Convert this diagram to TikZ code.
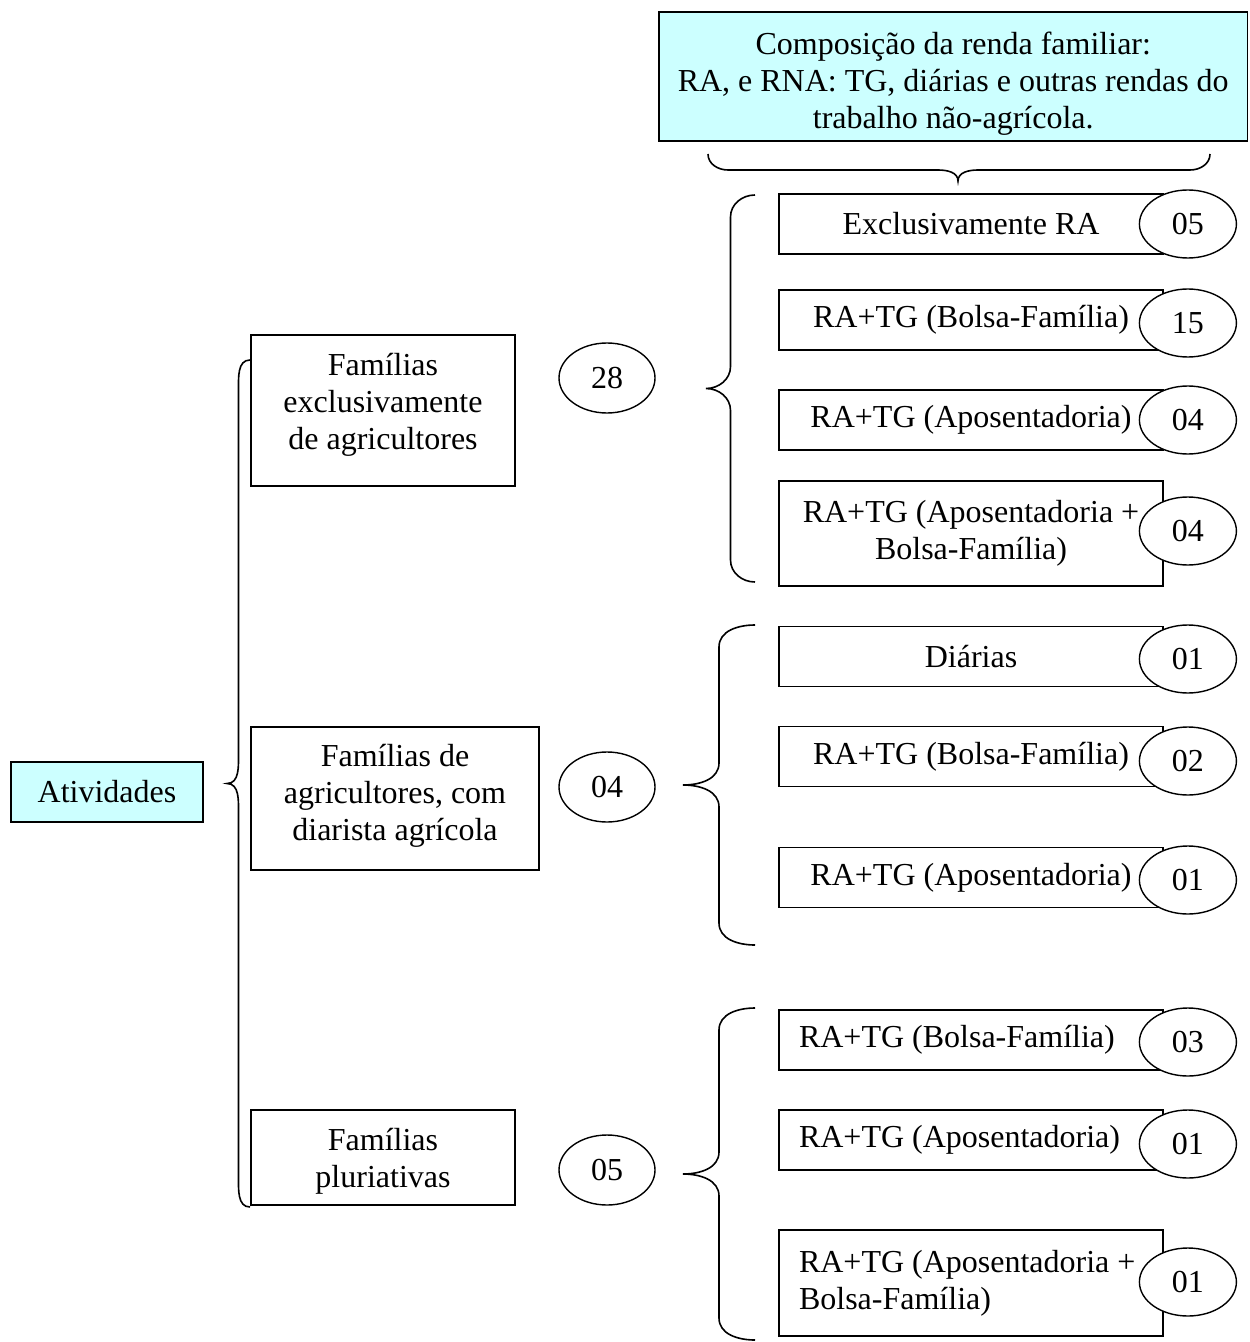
\documentclass[tikz,border=0pt]{standalone}
\usepackage{fontspec}
\setmainfont{Liberation Serif}
\usetikzlibrary{positioning,shapes.geometric}
\definecolor{azulclaro}{HTML}{CCFFFF}
\tikzset{
  caixa/.style={draw,line width=0.9pt,minimum height=30pt,align=center,inner sep=0pt},
  caixacor/.style={caixa,fill=azulclaro},
  renda/.style={caixa,minimum width=192pt},
  rendaesq/.style={caixa,text width=172pt,align=flush left,inner xsep=10pt},
  num/.style={draw,ellipse,fill=white,line width=0.7pt,minimum width=48.5pt,minimum height=34pt,inner sep=0pt},
  numgrupo/.style={num,minimum width=48pt,minimum height=35pt},
  chave/.style={line width=0.8pt},
}
% chave aberta para a direita: x das pontas, x do bico, y de cima, y de baixo, curva
\newcommand{\grpbrace}[5]{%
  \draw[chave] (#1,#3) to[out=180,in=90] ({0.5*#1+0.5*#2},{#3+#5})
    -- ({0.5*#1+0.5*#2},{0.5*#3+0.5*#4-#5}) to[out=-90,in=0] (#2,{0.5*#3+0.5*#4})
    to[out=0,in=90] ({0.5*#1+0.5*#2},{0.5*#3+0.5*#4+#5})
    -- ({0.5*#1+0.5*#2},{#4-#5}) to[out=-90,in=180] (#1,#4);}

\begin{document}
\begin{tikzpicture}[x=0.5pt,y=-0.5pt,font=\fontsize{16}{18.5}\selectfont]
\useasboundingbox (0,0) rectangle (1249,1342);

% legenda do topo
\node[caixacor,minimum width=294.25pt,minimum height=64.5pt] (legenda) at (953.25,76.5)
  {\rule{0pt}{18pt}Composição da renda familiar:\\RA, e RNA: TG, diárias e outras rendas do\\trabalho não-agrícola.};
\draw[chave] (708,154) to[out=-90,in=180] (728,170) -- (938,170) to[out=0,in=90] (958,181)
  to[out=90,in=180] (978,170) -- (1190,170) to[out=0,in=-90] (1210,154);

% raiz e tipos de familia
\node[caixacor,minimum width=96pt] (ativ) at (107,792) {Atividades};
\grpbrace{250}{227}{360}{1207}{30}

\node[caixa,minimum width=132pt,minimum height=75.5pt] (fexcl) at (383,410.5)
  {Famílias\\exclusivamente\\de agricultores\rule[-9.5pt]{0pt}{9.5pt}};
\node[caixa,minimum width=144pt,minimum height=71.5pt] (fdiar) at (395,798.5)
  {Famílias de\\agricultores, com\\diarista agrícola\rule[-6.5pt]{0pt}{6.5pt}};
\node[caixa,minimum width=132pt,minimum height=47.5pt] (fplur) at (383,1157.5)
  {\rule{0pt}{15pt}Famílias\\pluriativas};

\node[numgrupo] (nexcl) at (607,378) {28};
\node[numgrupo] (ndiar) at (607,787) {04};
\node[numgrupo] (nplur) at (607,1170) {05};

% grupo 1
\grpbrace{755}{706}{195}{582}{22}
\node[renda] (ga1) at (971,224) {Exclusivamente RA};
\node[renda] (ga2) at (971,320) {RA+TG (Bolsa-Família)};
\node[renda] (ga3) at (971,420) {RA+TG (Aposentadoria)};
\node[renda,minimum height=52.5pt] (ga4) at (971,533.5) {RA+TG (Aposentadoria +\\Bolsa-Família)};
\node[num] (nga1) at ([xshift=12pt]ga1.east) {05};
\node[num] (nga2) at ([xshift=12pt,yshift=-1.5pt]ga2.east) {15};
\node[num] (nga3) at ([xshift=12pt]ga3.east) {04};
\node[num] (nga4) at ([xshift=12pt,yshift=1.25pt]ga4.east) {04};

% grupo 2
\grpbrace{755}{683}{625}{945}{22}
\node[renda] (gb1) at (971,656.5) {Diárias};
\node[renda] (gb2) at (971,756.5) {RA+TG (Bolsa-Família)};
\node[renda] (gb3) at (971,877.5) {RA+TG (Aposentadoria)};
\node[num] (ngb1) at ([xshift=12pt,yshift=-1.25pt]gb1.east) {01};
\node[num] (ngb2) at ([xshift=12pt,yshift=-2.25pt]gb2.east) {02};
\node[num] (ngb3) at ([xshift=12pt,yshift=-1.25pt]gb3.east) {01};

% grupo 3
\grpbrace{755}{683}{1008}{1340}{22}
\node[rendaesq] (gc1) at (971,1040) {RA+TG (Bolsa-Família)};
\node[rendaesq] (gc2) at (971,1140) {RA+TG (Aposentadoria)};
\node[rendaesq,minimum height=53pt] (gc3) at (971,1283) {RA+TG (Aposentadoria +\\Bolsa-Família)};
\node[num] (ngc1) at ([xshift=12pt,yshift=-1pt]gc1.east) {03};
\node[num] (ngc2) at ([xshift=12pt,yshift=-2pt]gc2.east) {01};
\node[num] (ngc3) at ([xshift=12pt,yshift=0.5pt]gc3.east) {01};
\end{tikzpicture}
\end{document}
